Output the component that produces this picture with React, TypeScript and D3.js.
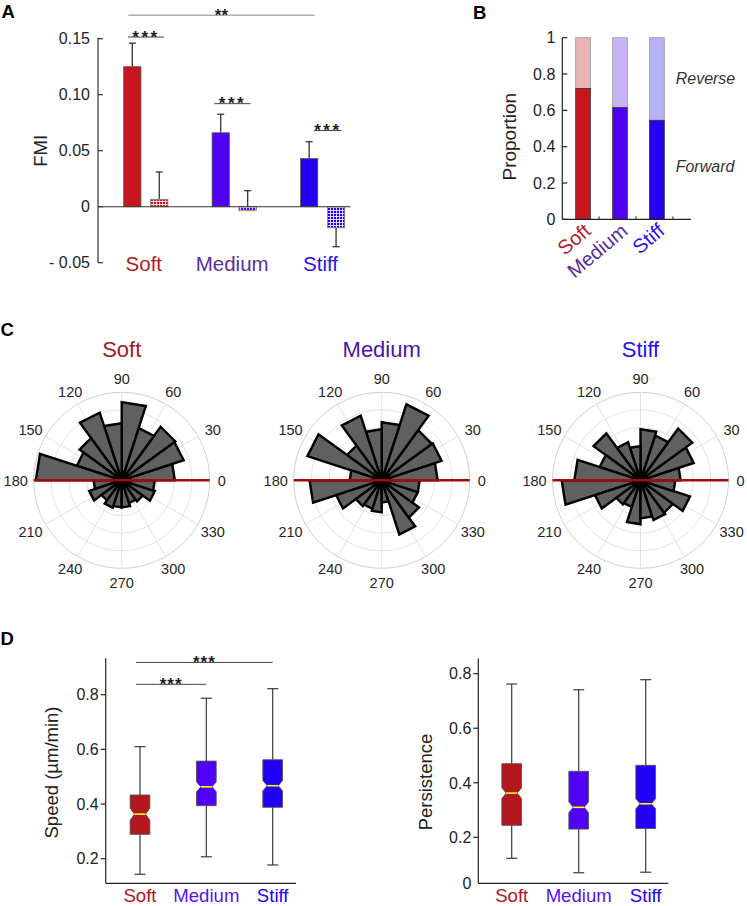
import { useEffect, useRef } from 'react';
import * as d3 from 'd3';

// ---- data ----
const categories = ['Soft', 'Medium', 'Stiff'];

// A: FMI, forward (solid) and reverse (hatched) bars, whisker end values
const fmiForward = [0.125, 0.066, 0.043];
const fmiForwardWhisker = [0.146, 0.0825, 0.058];
const fmiReverse = [0.0066, -0.0036, -0.0188];
const fmiReverseWhisker = [0.031, 0.0143, -0.0357];
const fmiPairSig = [0.1515, 0.092, 0.068];
const fmiSoftStiffSig = 0.171;
const fmiTicks = [-0.05, 0, 0.05, 0.1, 0.15];
const fmiTickLabels = ['- 0.05', '0', '0.05', '0.10', '0.15'];

// B: proportion forward / reverse
const forwardShare = [0.72, 0.615, 0.545];
const propTicks = [0, 0.2, 0.4, 0.6, 0.8, 1];
const propTickLabels = ['0', '0.2', '0.4', '0.6', '0.8', '1'];

// C: rose histograms, 20 bins of 18 deg starting at 0 deg (counter-clockwise)
const roseSoft = [15.1, 18.5, 18.8, 15.6, 22.2, 16.2, 20.2, 14.8, 13.4, 24.4, 8.0, 9.7, 7.1, 8.2, 7.7, 7.7, 6.8, 7.4, 9.9, 9.4];
const roseMedium = [15.9, 17.9, 17.6, 22.7, 16.5, 14.5, 19.3, 12.2, 22.2, 9.1, 20.5, 13.6, 9.1, 8.5, 9.1, 6.3, 16.2, 13.1, 10.8, 10.8];
const roseStiff = [11.4, 15.9, 18.2, 13.4, 14.5, 9.7, 11.4, 16.5, 12.2, 18.8, 22.4, 13.6, 8.5, 8.0, 12.5, 10.8, 11.9, 11.4, 14.8, 9.9];
const roseBinDeg = 18;
const roseMax = 25;
const roseRings = [5, 10, 15, 20, 25];
const roseAngleLabels = [0, 30, 60, 90, 120, 150, 180, 210, 240, 270, 300, 330];

// D: notched boxplots
const speedLow = [0.143, 0.207, 0.177];
const speedQ1 = [0.289, 0.394, 0.388];
const speedMedian = [0.363, 0.463, 0.467];
const speedQ3 = [0.433, 0.557, 0.562];
const speedHigh = [0.61, 0.787, 0.822];
const speedNotch = [0.022, 0.018, 0.019];
const speedTicks = [0.2, 0.4, 0.6, 0.8];
const speedSig = [0.838, 0.918];

const persLow = [0.123, 0.07, 0.072];
const persQ1 = [0.244, 0.23, 0.232];
const persMedian = [0.362, 0.31, 0.323];
const persQ3 = [0.47, 0.442, 0.464];
const persHigh = [0.762, 0.741, 0.778];
const persNotch = [0.02, 0.02, 0.018];
const persTicks = [0.2, 0.4, 0.6, 0.8];

const FONT = 'Liberation Sans, Arial, Helvetica, sans-serif';
const fillColors = ['#c8161e', '#5000f0', '#2400f0'];
const lightColors = ['#e8b3b3', '#c9b3f5', '#b5b3f6'];
const boxColors = ['#b3161c', '#5000f5', '#2200f5'];
const textColors = ['#b01c22', '#5b2d9e', '#2a10f0'];
const boxTextColors = ['#b3161c', '#5a10f0', '#2200f5'];
const titleColors = ['#a31a1f', '#4b14a8', '#2a10f0'];

export default function App() {
  const svgRef = useRef<SVGSVGElement>(null);

  useEffect(() => {
    if (!svgRef.current) return;
    const svg = d3.select(svgRef.current);
    svg.selectAll('*').remove();
    svg.style('font-family', FONT);

    const defs = svg.append('defs');
    fillColors.forEach((c, i) => {
      const p = defs.append('pattern')
        .attr('id', `grid${i}`)
        .attr('patternUnits', 'userSpaceOnUse')
        .attr('width', 3)
        .attr('height', 3);
      p.append('rect').attr('width', 3).attr('height', 3).attr('fill', c);
      p.append('path')
        .attr('d', 'M0 0.5H3M0.5 0V3')
        .attr('stroke', '#fff')
        .attr('stroke-width', 0.8);
    });

    const panelLabel = (t: string, x: number, y: number) =>
      svg.append('text').attr('x', x).attr('y', y)
        .style('font-size', '18.5px').style('font-weight', '700').text(t);

    // ================= A =================
    {
      const g = svg.append('g');
      const y = d3.scaleLinear().domain([-0.05, 0.15]).range([262.7, 38.7]);
      const x = d3.scalePoint<string>().domain(categories).range([145.8, 322.6]);
      const sub = d3.scaleBand<string>().domain(['fwd', 'rev']).range([-22.1, 22.1]).paddingInner(0.36);
      const bw = sub.bandwidth();
      const axisX = 98;

      g.append('line').attr('x1', axisX).attr('x2', axisX)
        .attr('y1', y(0.15) - 1).attr('y2', y(-0.05))
        .attr('stroke', '#333').attr('stroke-width', 1.2);
      fmiTicks.forEach((t, i) => {
        g.append('line').attr('x1', axisX).attr('x2', axisX + 5)
          .attr('y1', y(t)).attr('y2', y(t)).attr('stroke', '#333').attr('stroke-width', 1.2);
        g.append('text').attr('x', axisX - 8).attr('y', y(t)).attr('dy', '0.36em')
          .attr('text-anchor', 'end').style('font-size', '16px').attr('fill', '#222')
          .text(fmiTickLabels[i]);
      });

      g.append('text')
        .attr('transform', `translate(46.7,150.8) rotate(-90)`)
        .attr('text-anchor', 'middle').style('font-size', '18.5px').attr('fill', '#222')
        .text('FMI');

      categories.forEach((c, i) => {
        const xf = x(c)! + sub('fwd')!;
        const xr = x(c)! + sub('rev')!;
        const vf = fmiForward[i];
        const vr = fmiReverse[i];
        // error bars (behind)
        [[xf, vf, fmiForwardWhisker[i]], [xr, vr, fmiReverseWhisker[i]]].forEach(([bx, v, w]) => {
          const cx = bx + bw / 2;
          g.append('line').attr('x1', cx).attr('x2', cx).attr('y1', y(v)).attr('y2', y(w))
            .attr('stroke', '#333').attr('stroke-width', 1.3);
          g.append('line').attr('x1', cx - 3.5).attr('x2', cx + 3.5).attr('y1', y(w)).attr('y2', y(w))
            .attr('stroke', '#333').attr('stroke-width', 1.3);
        });
        g.append('rect').attr('x', xf).attr('width', bw)
          .attr('y', y(Math.max(0, vf))).attr('height', Math.abs(y(vf) - y(0)))
          .attr('fill', fillColors[i]).attr('stroke', '#555').attr('stroke-width', 0.8);
        g.append('rect').attr('x', xr).attr('width', bw)
          .attr('y', y(Math.max(0, vr))).attr('height', Math.abs(y(vr) - y(0)))
          .attr('fill', `url(#grid${i})`).attr('stroke', '#777').attr('stroke-width', 0.8);

        g.append('text').attr('x', x(c)! - 2).attr('y', 270.5)
          .attr('text-anchor', 'middle').style('font-size', '20.5px')
          .attr('fill', textColors[i]).text(c);
      });

      g.append('line').attr('x1', axisX).attr('x2', x('Stiff')! + 28)
        .attr('y1', y(0)).attr('y2', y(0)).attr('stroke', '#333').attr('stroke-width', 1.1);

      // significance
      const pairOffsets = [[-17.8, 18.2], [-20, 16.5], [-8.5, 19]];
      categories.forEach((c, i) => {
        const x1 = x(c)! + pairOffsets[i][0];
        const x2 = x(c)! + pairOffsets[i][1];
        const ly = y(fmiPairSig[i]);
        g.append('line').attr('x1', x1).attr('x2', x2).attr('y1', ly).attr('y2', ly)
          .attr('stroke', '#444').attr('stroke-width', 1);
        g.append('text').attr('x', (x1 + x2) / 2).attr('y', ly + 5.5)
          .attr('text-anchor', 'middle').style('font-size', '17px').style('letter-spacing', '2.5px')
          .style('font-weight', '700').attr('fill', '#222').text('***');
      });
      const sx1 = x('Soft')! - 17.5;
      const sx2 = x('Stiff')! - 8;
      const sy = y(fmiSoftStiffSig);
      g.append('line').attr('x1', sx1).attr('x2', sx2).attr('y1', sy).attr('y2', sy)
        .attr('stroke', '#888').attr('stroke-width', 1);
      g.append('text').attr('x', (sx1 + sx2) / 2).attr('y', sy + 5.5)
        .attr('text-anchor', 'middle').style('font-size', '17px').style('font-weight', '700')
        .attr('fill', '#222').text('**');
    }
    panelLabel('A', 1.5, 18.3);

    // ================= B =================
    {
      const g = svg.append('g');
      const y = d3.scaleLinear().domain([0, 1]).range([219.3, 37.7]);
      const x = d3.scaleBand<string>().domain(categories).range([575.7, 664.3]).paddingInner(0.602).paddingOuter(0);
      const bw = x.bandwidth();
      const axisX = 562.3;

      categories.forEach((c, i) => {
        const v = forwardShare[i];
        g.append('rect').attr('x', x(c)!).attr('width', bw)
          .attr('y', y(1)).attr('height', y(v) - y(1))
          .attr('fill', lightColors[i]).attr('stroke', '#999').attr('stroke-width', 0.8);
        g.append('rect').attr('x', x(c)!).attr('width', bw)
          .attr('y', y(v)).attr('height', y(0) - y(v))
          .attr('fill', fillColors[i]).attr('stroke', '#333').attr('stroke-width', 0.8);
        g.append('line').attr('x1', x(c)! + bw / 2 + 16).attr('x2', x(c)! + bw / 2 + 16)
          .attr('y1', y(0)).attr('y2', y(0) - 3).attr('stroke', '#333').attr('stroke-width', 1);
        g.append('text')
          .attr('transform', `translate(${x(c)! + bw / 2},${y(0) + 3}) rotate(-40)`)
          .attr('text-anchor', 'end').attr('dy', '0.7em').style('font-size', '20px')
          .attr('fill', textColors[i]).text(c);
      });

      g.append('line').attr('x1', axisX).attr('x2', axisX).attr('y1', y(1)).attr('y2', y(0))
        .attr('stroke', '#222').attr('stroke-width', 1.2);
      g.append('line').attr('x1', axisX).attr('x2', 691).attr('y1', y(0)).attr('y2', y(0))
        .attr('stroke', '#222').attr('stroke-width', 1.2);
      propTicks.forEach((t, i) => {
        g.append('line').attr('x1', axisX).attr('x2', axisX + 5).attr('y1', y(t)).attr('y2', y(t))
          .attr('stroke', '#222').attr('stroke-width', 1.2);
        g.append('text').attr('x', axisX - 7).attr('y', y(t)).attr('dy', '0.36em')
          .attr('text-anchor', 'end').style('font-size', '16px').attr('fill', '#222')
          .text(propTickLabels[i]);
      });
      g.append('text').attr('transform', 'translate(516,136.7) rotate(-90)')
        .attr('text-anchor', 'middle').style('font-size', '19px').attr('fill', '#222').text('Proportion');
      g.append('text').attr('x', 675.7).attr('y', 83.5).style('font-size', '16px')
        .style('font-style', 'italic').attr('fill', '#333').text('Reverse');
      g.append('text').attr('x', 675.7).attr('y', 171.5).style('font-size', '16px')
        .style('font-style', 'italic').attr('fill', '#333').text('Forward');
    }
    panelLabel('B', 473, 19);

    // ================= C =================
    {
      const roses = [roseSoft, roseMedium, roseStiff];
      const centersX = [121.7, 381.7, 640.5];
      const cy = 480.3;
      const R = 88;
      const labelR = 100;
      const r = d3.scaleLinear().domain([0, roseMax]).range([0, R]);
      const rad = (deg: number) => (deg * Math.PI) / 180;

      roses.forEach((bins, k) => {
        const cx = centersX[k];
        const g = svg.append('g');
        roseRings.forEach(v => {
          g.append('circle').attr('cx', cx).attr('cy', cy).attr('r', r(v))
            .attr('fill', 'none').attr('stroke', v === roseMax ? '#c4c4c4' : '#dadada').attr('stroke-width', 0.8);
        });
        roseAngleLabels.forEach(a => {
          g.append('line').attr('x1', cx).attr('y1', cy)
            .attr('x2', cx + R * Math.cos(rad(a))).attr('y2', cy - R * Math.sin(rad(a)))
            .attr('stroke', '#dadada').attr('stroke-width', 0.8);
          const lr = labelR + 6 * Math.abs(Math.cos(rad(a))) * (a === 0 ? 0 : 1);
          g.append('text')
            .attr('x', cx + lr * Math.cos(rad(a))).attr('y', cy - (labelR + 2) * Math.sin(rad(a)))
            .attr('dy', '0.36em').attr('text-anchor', 'middle')
            .style('font-size', '14.5px').attr('fill', '#262626').text(String(a));
        });
        bins.forEach((v, i) => {
          const a1 = rad(i * roseBinDeg);
          const a2 = rad((i + 1) * roseBinDeg);
          const rr = r(v);
          const pts: [number, number][] = [
            [cx, cy],
            [cx + rr * Math.cos(a1), cy - rr * Math.sin(a1)],
            [cx + rr * Math.cos(a2), cy - rr * Math.sin(a2)],
          ];
          g.append('path').attr('d', d3.line()(pts) + 'Z')
            .attr('fill', '#606060').attr('stroke', '#000').attr('stroke-width', 2.4)
            .attr('stroke-linejoin', 'miter');
        });
        g.append('line').attr('x1', cx - R).attr('x2', cx + R).attr('y1', cy).attr('y2', cy)
          .attr('stroke', '#a00c0c').attr('stroke-width', 2.6);
        g.append('text').attr('x', cx).attr('y', 357).attr('text-anchor', 'middle')
          .style('font-size', '22px').attr('fill', titleColors[k]).text(categories[k]);
      });
    }
    panelLabel('C', 0.5, 336);

    // ================= D =================
    const boxPanel = (
      axisX: number, xr: [number, number], y: d3.ScaleLinear<number, number>,
      lo: number[], q1: number[], med: number[], q3: number[], hi: number[], notch: number[],
      axisMin: number, axisMax: number, ticks: number[], xAxisEnd: number,
      title: string, titleY: number, titleBaseline: number, zeroLabel: boolean,
    ) => {
      const g = svg.append('g');
      const x = d3.scalePoint<string>().domain(categories).range(xr);
      const w = 19.7;
      const inset = 4.3;
      const capW = 11;

      categories.forEach((c, i) => {
        const cx = x(c)!;
        [[q3[i], hi[i]], [q1[i], lo[i]]].forEach(([a, b]) => {
          g.append('line').attr('x1', cx).attr('x2', cx).attr('y1', y(a)).attr('y2', y(b))
            .attr('stroke', '#3a3a3a').attr('stroke-width', 1.2);
          g.append('line').attr('x1', cx - capW / 2).attr('x2', cx + capW / 2).attr('y1', y(b)).attr('y2', y(b))
            .attr('stroke', '#3a3a3a').attr('stroke-width', 1.2);
        });
        const L = cx - w / 2;
        const Rr = cx + w / 2;
        const nHi = y(med[i] + notch[i]);
        const nLo = y(med[i] - notch[i]);
        const ym = y(med[i]);
        const pts: [number, number][] = [
          [L, y(q3[i])], [Rr, y(q3[i])], [Rr, nHi], [Rr - inset, ym], [Rr, nLo], [Rr, y(q1[i])],
          [L, y(q1[i])], [L, nLo], [L + inset, ym], [L, nHi],
        ];
        g.append('path').attr('d', d3.line()(pts) + 'Z')
          .attr('fill', boxColors[i]).attr('stroke', '#555').attr('stroke-width', 0.9);
        g.append('line').attr('x1', L + inset).attr('x2', Rr - inset).attr('y1', ym).attr('y2', ym)
          .attr('stroke', '#ffff00').attr('stroke-width', 1.6);
        g.append('text').attr('x', cx).attr('y', 902).attr('text-anchor', 'middle')
          .style('font-size', '18.6px').attr('fill', boxTextColors[i]).text(c);
      });

      g.append('line').attr('x1', axisX).attr('x2', axisX).attr('y1', y(axisMax)).attr('y2', y(axisMin))
        .attr('stroke', '#222').attr('stroke-width', 1.2);
      g.append('line').attr('x1', axisX).attr('x2', xAxisEnd).attr('y1', y(axisMin)).attr('y2', y(axisMin))
        .attr('stroke', '#222').attr('stroke-width', 1.2);
      ticks.forEach(t => {
        g.append('line').attr('x1', axisX - 5).attr('x2', axisX).attr('y1', y(t)).attr('y2', y(t))
          .attr('stroke', '#222').attr('stroke-width', 1.2);
        g.append('text').attr('x', axisX - 7).attr('y', y(t)).attr('dy', '0.36em')
          .attr('text-anchor', 'end').style('font-size', '16px').attr('fill', '#222').text(String(t));
      });
      if (zeroLabel) {
        g.append('text').attr('x', axisX - 7).attr('y', y(axisMin)).attr('dy', '0.36em')
          .attr('text-anchor', 'end').style('font-size', '16px').attr('fill', '#222').text('0');
      }
      g.append('text').attr('transform', `translate(${titleBaseline},${titleY}) rotate(-90)`)
        .attr('text-anchor', 'middle').style('font-size', '18.5px').attr('fill', '#222').text(title);
      return { g, x };
    };

    const ySpeed = d3.scaleLinear().domain([0.2, 0.8]).range([858.7, 694.7]);
    const sp = boxPanel(105.7, [140, 272.7], ySpeed, speedLow, speedQ1, speedMedian, speedQ3, speedHigh, speedNotch,
      0.11, 0.933, speedTicks, 296, 'Speed (µm/min)', 772.5, 57.8, false);
    // significance in speed
    [['Medium', speedSig[0]], ['Stiff', speedSig[1]]].forEach(([c, v]) => {
      const x1 = sp.x('Soft')! - 4;
      const x2 = sp.x(c as string)!;
      const ly = ySpeed(v as number);
      sp.g.append('line').attr('x1', x1).attr('x2', x2).attr('y1', ly).attr('y2', ly)
        .attr('stroke', '#444').attr('stroke-width', 1);
      sp.g.append('text').attr('x', (x1 + x2) / 2).attr('y', ly + 5.5).attr('text-anchor', 'middle')
        .style('font-size', '17px').style('letter-spacing', '1px').style('font-weight', '700')
        .attr('fill', '#222').text('***');
    });

    const yPers = d3.scaleLinear().domain([0.2, 0.8]).range([837.3, 673.7]);
    boxPanel(478.3, [511.7, 645.7], yPers, persLow, persQ1, persMedian, persQ3, persHigh, persNotch,
      0.031, 0.856, persTicks, 668.3, 'Persistence', 782, 431.7, true);

    panelLabel('D', 0.5, 645);
  }, []);

  return (
    <svg
      ref={svgRef}
      width={747}
      height={906}
      style={{ position: 'absolute', left: 0, top: 0, background: '#fff' }}
    />
  );
}
